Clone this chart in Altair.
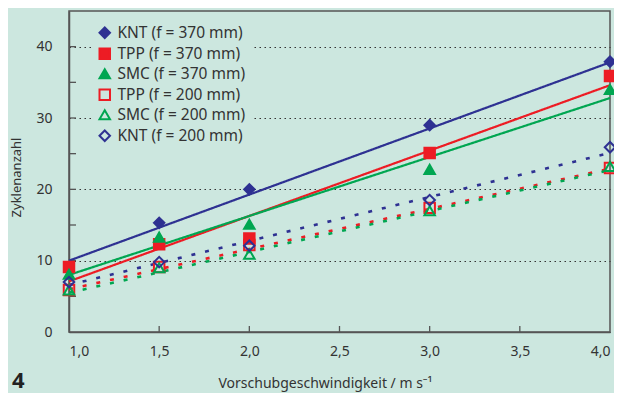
import altair as alt
import pandas as pd

# ---- data ----
series = ["KNT (f = 370 mm)", "TPP (f = 370 mm)", "SMC (f = 370 mm)",
          "TPP (f = 200 mm)", "SMC (f = 200 mm)", "KNT (f = 200 mm)"]
speeds = [1.0, 1.5, 2.0, 3.0, 4.0]
knt_370 = [None, 15.3, 20.0, 29.0, 37.9]
tpp_370 = [9.1, 12.3, 13.1, 25.1, 35.9]
smc_370 = [8.1, 13.3, 15.1, 22.8, 34.0]
tpp_200 = [5.9, 9.1, 12.2, 17.4, 23.0]
smc_200 = [5.9, 9.0, 10.9, 17.0, 23.2]
knt_200 = [7.0, 9.8, 12.1, 18.5, 25.9]
values = [knt_370, tpp_370, smc_370, tpp_200, smc_200, knt_200]

# fitted trend lines (end points)
fit_x = [1.0, 4.0]
fit_start = [10.0, 7.1, 8.0, 6.0, 5.5, 6.6]
fit_end = [37.8, 34.6, 32.8, 22.9, 22.7, 25.1]

y_labels = [0, 10, 20, 30, 40]
y_ticks = [5, 10, 15, 20, 25, 30, 35, 40]
x_labels = [1.0, 1.5, 2.0, 2.5, 3.0, 3.5, 4.0]
x_ticks = [1.5, 2.0, 2.5, 3.0, 3.5]

# ---- styles ----
BG = "#cce7df"
colors = ["#2e3192", "#ed1c24", "#00a651", "#ed1c24", "#00a651", "#2e3192"]
fills = ["#2e3192", "#ed1c24", "#00a651", "transparent", "transparent", "transparent"]
shapes = ["diamond", "square", "triangle-up", "square", "triangle-up", "diamond"]
dashes = [[1, 0], [1, 0], [1, 0], [4, 10], [4, 10], [4, 10]]
FONT = "Noto Sans"
W, H = 541, 321

rows = []
for s, vals in zip(series, values):
    for x, v in zip(speeds, vals):
        if v is not None:
            rows.append({"series": s, "speed": x, "cycles": v})
pts = pd.DataFrame(rows)

xscale = alt.Scale(domain=[1, 4], nice=False)
yscale = alt.Scale(domain=[0, 45], nice=False)

xaxis = alt.Axis(values=x_labels, labelExpr="replace(format(datum.value, '.1f'), '.', ',')",
                 ticks=False, grid=False, labelPadding=12, labelFontSize=14,
                 labelColor="#333", labelFont=FONT, title="Vorschubgeschwindigkeit / m s⁻¹",
                 titleFont=FONT, titleFontSize=14, titleFontWeight="normal",
                 titleColor="#333", titlePadding=18, titleX=256,
                 domainColor="#555", domainWidth=1.5)
yaxis = alt.Axis(values=y_labels, ticks=False, grid=True, gridDash=[1.5, 3.5],
                 gridColor="#333", gridWidth=1.2, labelPadding=17, labelFontSize=14,
                 labelColor="#333", labelFont=FONT, title="Zyklenanzahl",
                 titleFont=FONT, titleFontSize=13, titleFontWeight="normal",
                 titleColor="#333", titlePadding=12, titleY=166,
                 domainColor="#555", domainWidth=1.5)

layers = []
for s, a, b, c, d in zip(series, fit_start, fit_end, colors, dashes):
    df = pd.DataFrame({"speed": fit_x, "cycles": [a, b]})
    layers.append(
        alt.Chart(df).mark_line(strokeWidth=2.2 if d == [1, 0] else 2.6)
        .encode(x=alt.X("speed:Q", scale=xscale, axis=xaxis),
                y=alt.Y("cycles:Q", scale=yscale, axis=yaxis),
                color=alt.value(c), strokeDash=alt.value(d))
    )

legend = alt.Legend(title=None, orient="none", legendX=22, legendY=8,
                    fillColor=BG, padding=6, labelFontSize=15.5, labelFont=FONT,
                    labelColor="#333", symbolSize=110, symbolStrokeWidth=2,
                    rowPadding=2, labelOffset=5)

points = alt.Chart(pts).mark_point(size=110, strokeWidth=2, opacity=1).encode(
    x=alt.X("speed:Q", scale=xscale, axis=xaxis),
    y=alt.Y("cycles:Q", scale=yscale, axis=yaxis),
    shape=alt.Shape("series:N", scale=alt.Scale(domain=series, range=shapes), legend=legend),
    stroke=alt.Stroke("series:N", scale=alt.Scale(domain=series, range=colors), legend=legend),
    fill=alt.Fill("series:N", scale=alt.Scale(domain=series, range=fills), legend=legend),
)

tick_y = alt.Chart(pd.DataFrame({"t": y_ticks})).mark_rule(color="#555", strokeWidth=1.3).encode(
    x=alt.value(0), x2=alt.value(7), y=alt.Y("t:Q", scale=yscale))
tick_x = alt.Chart(pd.DataFrame({"t": x_ticks})).mark_rule(color="#555", strokeWidth=1.3).encode(
    x=alt.X("t:Q", scale=xscale), y=alt.value(H), y2=alt.value(H - 6))

fig_no = alt.Chart(pd.DataFrame({"t": ["4"]})).mark_text(
    align="left", baseline="alphabetic", fontSize=22, fontWeight="bold", font=FONT, color="#222"
).encode(text="t:N", x=alt.value(-57), y=alt.value(377))

chart = alt.layer(tick_y, tick_x, *layers, points, fig_no).properties(
    width=W, height=H, background=BG,
    padding={"left": 61, "top": 3, "right": 4, "bottom": 61},
    autosize="none",
).configure_view(stroke="#555", strokeWidth=1.5)

chart.save("out.html", embed_options={"renderer": "svg", "actions": False})
